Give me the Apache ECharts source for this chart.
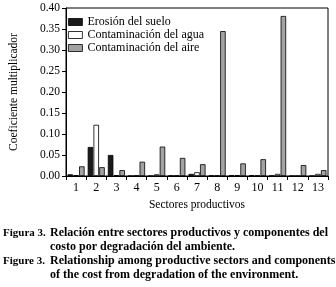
<!DOCTYPE html>
<html><head><meta charset="utf-8">
<script src="https://cdn.jsdelivr.net/npm/echarts@6/dist/echarts.min.js"></script>
<style>html,body{margin:0;padding:0;background:#fff}#c{width:336px;height:287px}</style>
</head><body><div id="c"></div>
<script>
var categories = ['1','2','3','4','5','6','7','8','9','10','11','12','13'];
var erosion = [0.004,0.069,0.050,0.000,0.000,0.001,0.005,0.001,0.002,0.002,0.001,0.000,0.000];
var agua    = [0.002,0.122,0.002,0.001,0.004,0.001,0.009,0.001,0.002,0.001,0.005,0.000,0.005];
var aire    = [0.023,0.021,0.014,0.034,0.070,0.043,0.028,0.345,0.030,0.040,0.381,0.026,0.014];
var seriesNames = ['Erosión del suelo','Contaminación del agua','Contaminación del aire'];
var captions = [
  ['Figura 3.','Relación entre sectores productivos y componentes del'],
  ['','costo por degradación del ambiente.'],
  ['Figure 3.','Relationship among productive sectors and components'],
  ['','of the cost from degradation of the environment.']
];
var serif = '"Liberation Serif","DejaVu Serif",serif';
var chart = echarts.init(document.getElementById('c'), null, {renderer:'canvas'});
var colors = ['#1a1a1a','#ffffff','#a3a3a3'];
var datas = [erosion, agua, aire];
var series = datas.map(function(d,i){
  return {name:seriesNames[i], type:'bar', data:d, barWidth:5.5, barGap:'5%',
    itemStyle:{color:colors[i], borderColor:'#000', borderWidth:0.8}};
});
var graphics = [];
var capY = [233,247,261,275];
captions.forEach(function(c,i){
  if(c[0]) graphics.push({type:'text', x:3, y:capY[i], style:{text:c[0], font:'bold 11px '+serif, fill:'#000', verticalAlign:'middle'}});
  graphics.push({type:'text', x:50, y:capY[i], style:{text:c[1], font:'bold 12px '+serif, fill:'#000', verticalAlign:'middle'}});
});
chart.setOption({
  backgroundColor:'#fff',
  animation:false,
  grid:{left:63, right:8, top:8, bottom:111, show:true, borderColor:'#000', borderWidth:1, backgroundColor:'transparent'},
  legend:{left:63, top:11, orient:'vertical', icon:'rect', itemWidth:14, itemHeight:7, itemGap:1,
    textStyle:{fontFamily:serif, fontSize:12, color:'#000'},
    itemStyle:{borderColor:'#000', borderWidth:0.8},
    data:seriesNames},
  xAxis:{type:'category', data:categories,
    axisLine:{lineStyle:{color:'#000'}},
    axisTick:{show:true, inside:false, length:4, lineStyle:{color:'#000'}},
    axisLabel:{color:'#000', fontFamily:serif, fontSize:12, margin:6},
    name:'Sectores productivos', nameLocation:'middle', nameGap:22,
    nameTextStyle:{fontFamily:serif, fontSize:11.5, color:'#000'}},
  yAxis:{type:'value', min:0, max:0.4, interval:0.05,
    axisLine:{show:true, lineStyle:{color:'#000'}},
    axisTick:{show:true, inside:false, length:4, lineStyle:{color:'#000'}},
    splitLine:{show:false},
    axisLabel:{color:'#000', fontFamily:serif, fontSize:11.5, margin:6, formatter:function(v){return v.toFixed(2);}},
    name:'Coeficiente multiplicador', nameLocation:'middle', nameGap:46,
    nameTextStyle:{fontFamily:serif, fontSize:11.5, color:'#000'}},
  series:series,
  graphic:graphics
});
</script></body></html>
